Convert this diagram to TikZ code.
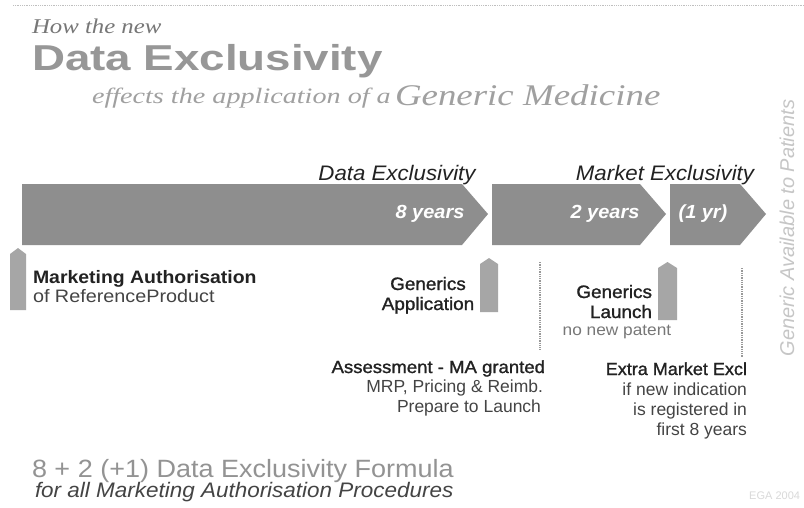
\documentclass[tikz,border=0pt]{standalone}
\usepackage{fontspec}
\usepackage{graphicx}
\setmainfont{Liberation Serif}
\setsansfont{Liberation Sans}
\newfontfamily\medsans[FakeBold=1.2]{Liberation Sans}

\definecolor{bandgray}{HTML}{8E8E8E}
\definecolor{markgray}{HTML}{A6A6A6}
\definecolor{titlegray}{HTML}{979797}
\definecolor{softgray}{HTML}{A0A0A0}
\definecolor{inkdark}{HTML}{222222}
\definecolor{inkmid}{HTML}{444444}
\definecolor{inklight}{HTML}{777777}

% font size helper and horizontal stretch helper
\newcommand{\fsz}[1]{\fontsize{#1}{#1}\selectfont}
\newcommand{\hx}[2]{\scalebox{#1}[1]{#2}}

\tikzset{
  band/.style={fill=bandgray, draw=none},
  marker/.style={fill=markgray, draw=none},
  guide/.style={draw=gray!80, line width=1.3pt, densely dotted},
  txt/.style={inner sep=0pt, outer sep=0pt},
  bandtext/.style={txt, text=white, font=\sffamily\bfseries\itshape\fsz{19}},
  phase/.style={txt, text=inkdark, font=\sffamily\itshape\fsz{21}},
  event/.style={txt, text=inkdark, font=\medsans\fsz{18}},
  note/.style={txt, text=inkmid, font=\sffamily\fsz{17.5}},
}

\begin{document}
\begin{tikzpicture}[x=1pt, y=-1pt]
  \useasboundingbox (0,0) rectangle (804,507);
  \fill[white] (0,0) rectangle (804,507);

  % top rule
  \coordinate (ruleL) at (13,5);
  \coordinate (ruleR) at (804,5);
  \draw[draw=gray!50, line width=0.8pt, densely dotted] (ruleL) -- (ruleR);

  % heading
  \node[txt, anchor=base west, text=inklight, font=\rmfamily\itshape\fsz{21}]
    (how) at (32,33) {\hx{1.18}{How the new}};
  \node[txt, anchor=base west, text=titlegray, font=\sffamily\bfseries\fsz{36}]
    (title) at (32,70) {\hx{1.27}{Data Exclusivity}};
  \node[txt, anchor=base west, text=softgray, font=\rmfamily\itshape\fsz{22}]
    (effects) at (92,103) {\hx{1.28}{effects the application of a}};
  \node[txt, anchor=base west, text=softgray, font=\rmfamily\itshape\fsz{30}]
    (generic) at (395,105) {\hx{1.23}{Generic Medicine}};

  % period bands
  \fill[band] (22,184) -- (462,184) -- (488,214) -- (462,245) -- (22,245) -- cycle;
  \fill[band] (492,184) -- (640,184) -- (666,214) -- (640,245) -- (492,245) -- cycle;
  \fill[band] (670,184) -- (740,184) -- (766,214) -- (740,245) -- (670,245) -- cycle;

  \node[bandtext] (eight) at (430,214) {\hx{1.05}{8 years}};
  \node[bandtext] (two)   at (605,214) {\hx{1.05}{2 years}};
  \node[bandtext] (one)   at (703,214) {\hx{1.05}{(1 yr)}};

  \node[phase, anchor=base] (dataex) at (397,180) {\hx{1.06}{Data Exclusivity}};
  \node[phase, anchor=base] (marketex) at (665,180) {\hx{1.06}{Market Exclusivity}};

  % event markers
  \fill[marker] (10,310) -- (10,254) -- (18,248) -- (26,254) -- (26,310) -- cycle;
  \fill[marker] (480,312) -- (480,264) -- (489,258) -- (498,264) -- (498,312) -- cycle;
  \fill[marker] (658,320) -- (658,268) -- (667.5,262) -- (677,268) -- (677,320) -- cycle;

  % guide lines
  \coordinate (gAtop) at (540,262);
  \coordinate (gAbot) at (540,350);
  \coordinate (gBtop) at (742,268);
  \coordinate (gBbot) at (742,357);
  \draw[guide] (gAtop) -- (gAbot);
  \draw[guide] (gBtop) -- (gBbot);

  % marketing authorisation
  \node[txt, anchor=base west, text=inkdark, font=\sffamily\bfseries\fsz{18}]
    (ma) at (33,283) {\hx{1.08}{Marketing Authorisation}};
  \node[txt, anchor=base west, text=inkmid, font=\sffamily\fsz{18}]
    (maref) at (33,302) {\hx{1.1}{of ReferenceProduct}};

  % generics application
  \node[event, anchor=base] (gapp1) at (428,290) {\hx{1.05}{Generics}};
  \node[event, anchor=base] (gapp2) at (428,310) {\hx{1.05}{Application}};

  % generics launch
  \node[event, anchor=base east] (glaunch1) at (652,298) {\hx{1.05}{Generics}};
  \node[event, anchor=base east] (glaunch2) at (652,318) {\hx{1.05}{Launch}};
  \node[txt, anchor=base, text=inklight, font=\sffamily\fsz{16}]
    (nopatent) at (617,335) {\hx{1.08}{no new patent}};

  % assessment block
  \node[txt, anchor=base east, text=inkdark, font=\medsans\fsz{17.5}]
    (assess) at (545,373) {\hx{1.06}{Assessment - MA granted}};
  \node[note, anchor=base east] (mrp) at (543,392) {\hx{1.0}{MRP, Pricing \& Reimb.}};
  \node[note, anchor=base east] (prep) at (541,412) {\hx{1.0}{Prepare to Launch}};

  % extra market exclusivity block
  \node[txt, anchor=base east, text=inkdark, font=\medsans\fsz{17.5}]
    (extra) at (747,375) {\hx{1.03}{Extra Market Excl}};
  \node[note, anchor=base east] (ind1) at (747,395) {\hx{1.0}{if new indication}};
  \node[note, anchor=base east] (ind2) at (747,415) {\hx{1.0}{is registered in}};
  \node[note, anchor=base east] (ind3) at (747,435) {\hx{1.0}{first 8 years}};

  % side caption
  \node[txt, rotate=90, text=gray!45, font=\sffamily\itshape\fsz{20}]
    (side) at (787,228) {Generic Available to Patients};

  % formula
  \node[txt, anchor=base west, text=gray!85!white, font=\sffamily\fsz{25}]
    (formula) at (32,477) {\hx{1.08}{8 + 2 (+1) Data Exclusivity Formula}};
  \node[txt, anchor=base west, text=inkmid, font=\sffamily\itshape\fsz{21}]
    (procs) at (35,497) {\hx{1.07}{for all Marketing Authorisation Procedures}};

  \node[txt, anchor=base east, text=gray!30, font=\sffamily\fsz{11}]
    (credit) at (800,499) {EGA 2004};
\end{tikzpicture}
\end{document}
